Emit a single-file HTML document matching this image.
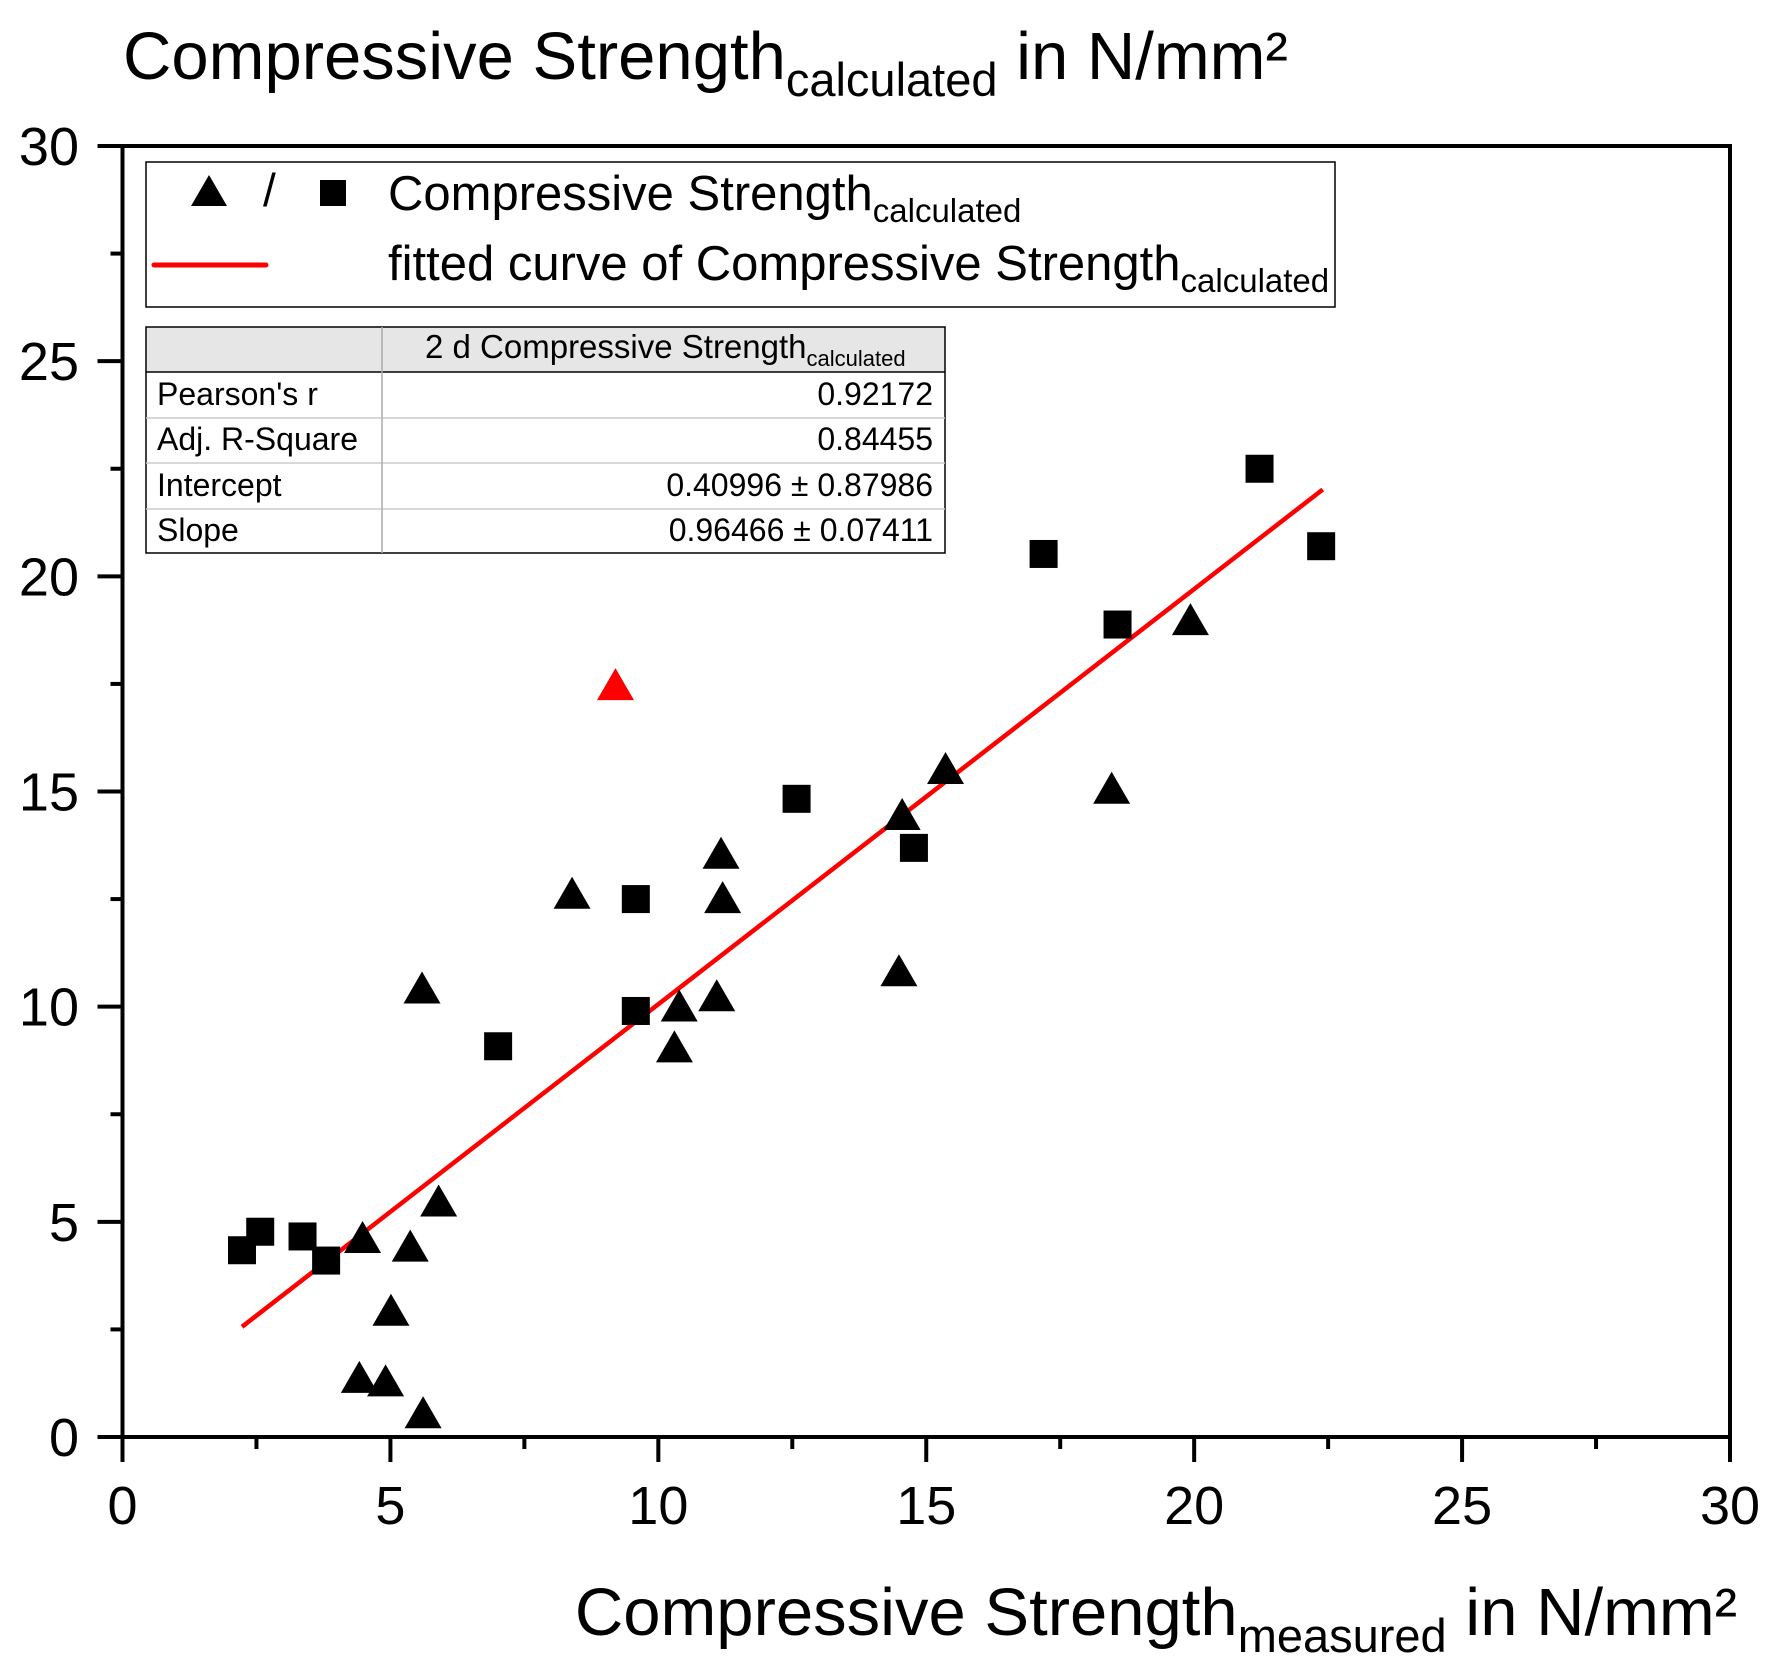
<!DOCTYPE html>
<html><head><meta charset="utf-8"><style>
html,body{margin:0;padding:0;background:#fff;}
svg{display:block;font-family:"Liberation Sans",Arial,sans-serif;}
</style></head><body>
<svg id="chart" width="1786" height="1674" viewBox="0 0 1786 1674">
<g id="axes"></g>
<g id="marks"></g>
<text x="123" y="79" font-size="67">Compressive Strength<tspan font-size="47" dy="17">calculated</tspan><tspan dy="-17"> in N/mm²</tspan></text>
<text x="1737" y="1635" font-size="67" text-anchor="end">Compressive Strength<tspan font-size="47" dy="17">measured</tspan><tspan dy="-17"> in N/mm²</tspan></text>
<g>
<rect x="146" y="162" width="1189" height="145" fill="#fff" stroke="#000" stroke-width="1.5"/>
<polygon points="191,206 209,175 227,206" fill="#000"/>
<text x="263" y="206" font-size="46">/</text>
<rect x="320" y="180" width="26" height="26" fill="#000"/>
<text x="388" y="210" font-size="49">Compressive Strength<tspan font-size="33" dy="12">calculated</tspan></text>
<line x1="154" y1="265" x2="266" y2="265" stroke="#f00" stroke-width="5" stroke-linecap="round"/>
<text x="388" y="280" font-size="49">fitted curve of Compressive Strength<tspan font-size="33" dy="12">calculated</tspan></text>
</g>
<g font-size="32">
<rect x="146" y="327" width="799" height="45" fill="#e6e6e6"/>
<rect x="146" y="327" width="799" height="226" fill="none" stroke="#000" stroke-width="1.5"/>
<line x1="146" y1="372" x2="945" y2="372" stroke="#000" stroke-width="1.5"/>
<line x1="146" y1="418" x2="945" y2="418" stroke="#ccc" stroke-width="1.5"/>
<line x1="146" y1="463" x2="945" y2="463" stroke="#ccc" stroke-width="1.5"/>
<line x1="146" y1="509" x2="945" y2="509" stroke="#ccc" stroke-width="1.5"/>
<line x1="382" y1="327" x2="382" y2="553" stroke="#aaa" stroke-width="1.5"/>
<text x="425" y="358" font-size="33">2 d Compressive Strength<tspan font-size="22" dy="8">calculated</tspan></text>
<text x="157" y="405">Pearson's r</text><text x="933" y="405" text-anchor="end">0.92172</text>
<text x="157" y="450">Adj. R-Square</text><text x="933" y="450" text-anchor="end">0.84455</text>
<text x="157" y="496">Intercept</text><text x="933" y="496" text-anchor="end">0.40996 ± 0.87986</text>
<text x="157" y="541">Slope</text><text x="933" y="541" text-anchor="end">0.96466 ± 0.07411</text>
</g>
</svg>
<script>
const xTicks = [0,5,10,15,20,25,30];
const yTicks = [0,5,10,15,20,25,30];
const triX = [9.2,19.93,18.46,15.36,14.55,14.49,11.17,11.2,11.09,10.39,10.3,8.39,5.59,5.9,5.37,5.01,4.48,4.42,4.91,5.61];
const triY = [17.45,18.96,15.04,15.5,14.43,10.8,13.53,12.5,10.22,9.98,9.03,12.6,10.4,5.45,4.4,2.91,4.6,1.35,1.27,0.53];
const triOutlier = [true,false,false,false,false,false,false,false,false,false,false,false,false,false,false,false,false,false,false,false];
const sqX = [21.22,22.37,17.19,18.57,12.58,14.77,9.58,9.58,7.01,2.23,2.57,3.36,3.8];
const sqY = [22.5,20.7,20.52,18.88,14.83,13.69,12.5,9.9,9.08,4.34,4.77,4.66,4.1];
const fitIntercept = 0.40996;
const fitSlope = 0.96466;
const fitRange = [2.23,22.4];

const NS='http://www.w3.org/2000/svg';
const L=122.5,R=1730,T=146,B=1437;
const sx=v=>L+(v-0)/30*(R-L);
const sy=v=>B-(v-0)/30*(B-T);
function mk(tag,attrs,parent){const e=document.createElementNS(NS,tag);for(const k in attrs)e.setAttribute(k,attrs[k]);parent.appendChild(e);return e;}
const axes=document.getElementById('axes'), marks=document.getElementById('marks');
let e=mk('rect',{x:L,y:T,width:R-L,height:B-T,fill:'none',stroke:'#000','stroke-width':4},axes);


xTicks.forEach((t,i)=>{
  let l=mk('line',{x1:sx(t),x2:sx(t),y1:B,y2:B+25,stroke:'#000','stroke-width':4},axes);
  
  
  if(i<xTicks.length-1){let m=mk('line',{x1:sx(t+2.5),x2:sx(t+2.5),y1:B,y2:B+12,stroke:'#000','stroke-width':4},axes);
  
  }
  let tx=mk('text',{x:sx(t),y:1524,'font-size':54,'text-anchor':'middle'},axes);tx.textContent=t;
  
  
});
yTicks.forEach((t,i)=>{
  let l=mk('line',{x1:L-25,x2:L,y1:sy(t),y2:sy(t),stroke:'#000','stroke-width':4},axes);
  
  
  if(i<yTicks.length-1){let m=mk('line',{x1:L-12,x2:L,y1:sy(t+2.5),y2:sy(t+2.5),stroke:'#000','stroke-width':4},axes);
  
  }
  let tx=mk('text',{x:79,y:sy(t)+19,'font-size':54,'text-anchor':'end'},axes);tx.textContent=t;
  
  
});
let fl=mk('line',{x1:sx(fitRange[0]),y1:sy(fitIntercept+fitSlope*fitRange[0]),x2:sx(fitRange[1]),y2:sy(fitIntercept+fitSlope*fitRange[1]),stroke:'#f00','stroke-width':4.5},marks);


sqX.forEach((x,i)=>{
  let r=mk('rect',{x:sx(x)-14,y:sy(sqY[i])-14,width:28,height:28,fill:'#000'},marks);
  
  
});
triX.forEach((x,i)=>{
  const cx=sx(x),cy=sy(triY[i]);
  let p=mk('polygon',{points:`${cx-18.5},${cy+14} ${cx},${cy-18} ${cx+18.5},${cy+14}`,fill:triOutlier[i]?'#f00':'#000'},marks);
  
  
});
</script>
</body></html>
